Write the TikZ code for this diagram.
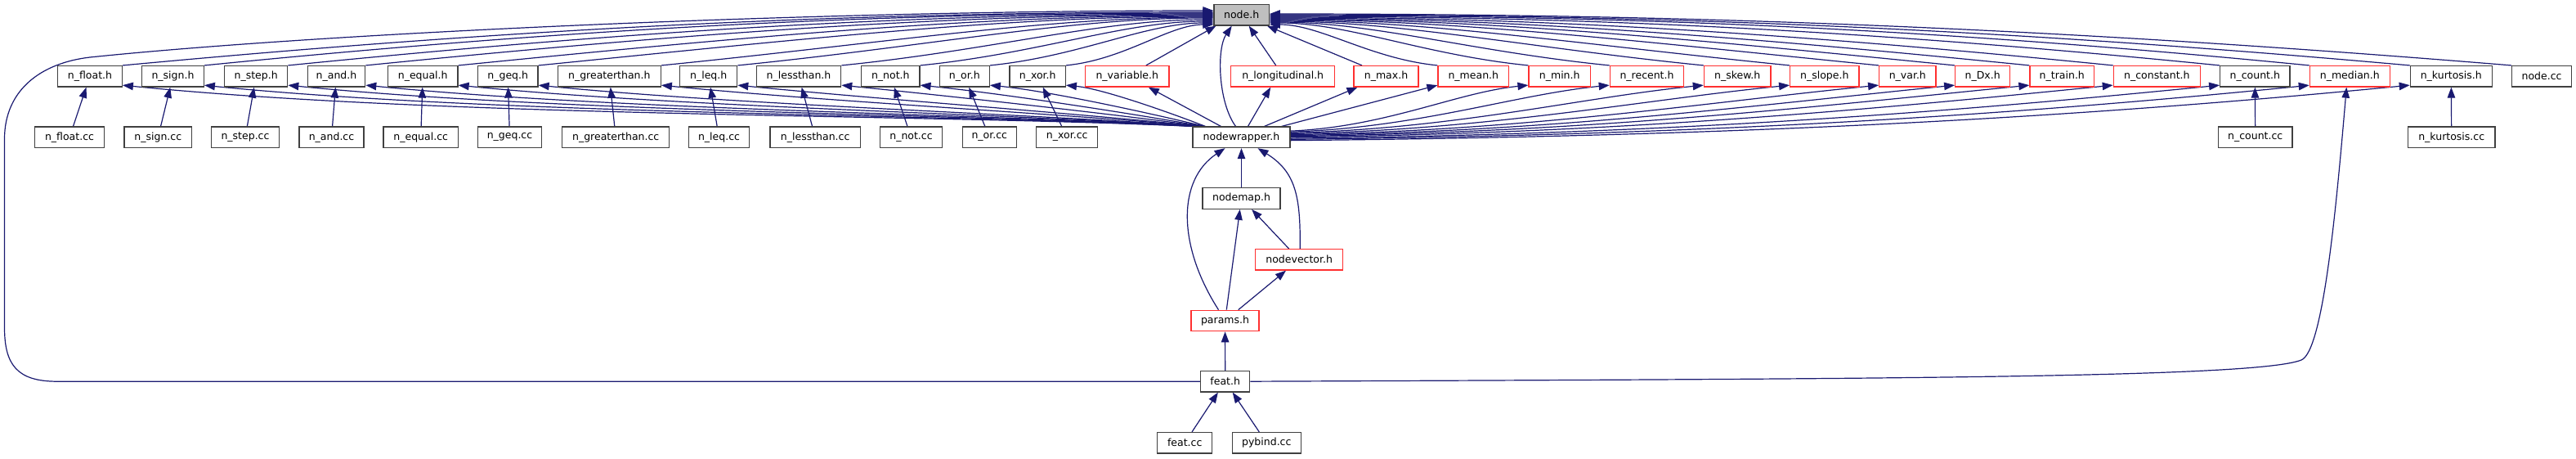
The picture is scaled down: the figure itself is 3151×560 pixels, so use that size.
\documentclass[tikz,border=0pt]{standalone}
\usepackage{fontspec}
\setmainfont{DejaVu Sans}
\usetikzlibrary{arrows.meta,backgrounds}
\definecolor{edgeblue}{HTML}{191970}
\definecolor{bordergray}{HTML}{404040}
\definecolor{borderred}{HTML}{FF3030}
\definecolor{fillgray}{HTML}{BFBFBF}
\tikzset{
  box/.style={draw=bordergray, line width=1.2pt, fill=white, inner sep=0pt,
    minimum height=25.5pt, font=\fontsize{12.5}{15}\selectfont, text=black},
  redbox/.style={box, draw=borderred},
  edge/.style={draw=edgeblue, line width=1.2pt, -{Triangle[length=13pt,width=9.5pt]}},
}
\begin{document}
\begin{tikzpicture}[x=1pt,y=-1pt]
\useasboundingbox (0,0) rectangle (3151,560);
% row 0
\node[box, fill=fillgray, minimum width=67.3pt] (nodeh) at (1518.7,18.3) {node.h};
% row 1
\node[box, minimum width=78.6pt]  (nfloat)        at (110,93.3)    {n\_float.h};
\node[box, minimum width=75.6pt]  (nsign)         at (211.5,93.3)  {n\_sign.h};
\node[box, minimum width=77pt]    (nstep)         at (313.2,93.3)  {n\_step.h};
\node[box, minimum width=70.4pt]  (nand)          at (411.5,93.3)  {n\_and.h};
\node[box, minimum width=85.7pt]  (nequal)        at (517.2,93.3)  {n\_equal.h};
\node[box, minimum width=73.7pt]  (ngeq)          at (621.2,93.3)  {n\_geq.h};
\node[box, minimum width=126pt]   (ngreaterthan)  at (745.3,93.3)  {n\_greaterthan.h};
\node[box, minimum width=70pt]    (nleq)          at (866.7,93.3)  {n\_leq.h};
\node[box, minimum width=103.4pt] (nlessthan)     at (977,93.3)    {n\_lessthan.h};
\node[box, minimum width=71.3pt]  (nnot)          at (1089.3,93.3) {n\_not.h};
\node[box, minimum width=61pt]    (nor)           at (1179.8,93.3) {n\_or.h};
\node[box, minimum width=68.3pt]  (nxor)          at (1269.2,93.3) {n\_xor.h};
\node[redbox, minimum width=102.3pt] (nvariable)  at (1378.8,93.3) {n\_variable.h};
\node[redbox, minimum width=127pt] (nlongitudinal) at (1569.2,93.3) {n\_longitudinal.h};
\node[redbox, minimum width=79pt]  (nmax)         at (1695.5,93.3) {n\_max.h};
\node[redbox, minimum width=86.7pt] (nmean)       at (1802.3,93.3) {n\_mean.h};
\node[redbox, minimum width=75.3pt] (nmin)        at (1907.7,93.3) {n\_min.h};
\node[redbox, minimum width=90.4pt] (nrecent)     at (2014.5,93.3) {n\_recent.h};
\node[redbox, minimum width=81.7pt] (nskew)       at (2125.2,93.3) {n\_skew.h};
\node[redbox, minimum width=84.3pt] (nslope)      at (2231.8,93.3) {n\_slope.h};
\node[redbox, minimum width=69.3pt] (nvar)        at (2333.3,93.3) {n\_var.h};
\node[redbox, minimum width=67pt]   (nDx)         at (2425.2,93.3) {n\_Dx.h};
\node[redbox, minimum width=78.7pt] (ntrain)      at (2522.3,93.3) {n\_train.h};
\node[redbox, minimum width=106pt]  (nconstant)   at (2638.3,93.3) {n\_constant.h};
\node[box, minimum width=85.3pt]    (ncount)      at (2758.3,93.3) {n\_count.h};
\node[redbox, minimum width=98pt]   (nmedian)     at (2874.3,93.3) {n\_median.h};
\node[box, minimum width=100pt]     (nkurtosis)   at (2998.3,93.3) {n\_kurtosis.h};
\node[box, minimum width=72.6pt]    (nodecc)      at (3109,93.3)   {node.cc};
% row 2
\node[box, minimum width=84.6pt]  (nfloatcc)       at (85,167.8)     {n\_float.cc};
\node[box, minimum width=82.7pt]  (nsigncc)        at (193.3,167.8)  {n\_sign.cc};
\node[box, minimum width=82.6pt]  (nstepcc)        at (300,167.8)    {n\_step.cc};
\node[box, minimum width=79pt]    (nandcc)         at (405.5,167.8)  {n\_and.cc};
\node[box, minimum width=91.3pt]  (nequalcc)       at (514.7,167.8)  {n\_equal.cc};
\node[box, minimum width=78.4pt]  (ngeqcc)         at (623.5,167.8)  {n\_geq.cc};
\node[box, minimum width=131pt]   (ngreaterthancc) at (753.2,167.8)  {n\_greaterthan.cc};
\node[box, minimum width=74.4pt]  (nleqcc)         at (879.5,167.8)  {n\_leq.cc};
\node[box, minimum width=110.3pt] (nlessthancc)    at (997.2,167.8)  {n\_lessthan.cc};
\node[box, minimum width=75.6pt]  (nnotcc)         at (1114.5,167.8) {n\_not.cc};
\node[box, minimum width=66pt]    (norcc)          at (1210.3,167.8) {n\_or.cc};
\node[box, minimum width=75pt]    (nxorcc)         at (1305.2,167.8) {n\_xor.cc};
\node[box, minimum width=119pt]   (nodewrapper)    at (1518.5,167.8) {nodewrapper.h};
\node[box, minimum width=90.7pt]  (ncountcc)       at (2758.7,167.8) {n\_count.cc};
\node[box, minimum width=106.7pt] (nkurtosiscc)    at (2998.7,167.8) {n\_kurtosis.cc};
% lower part
\node[box, minimum width=95pt]     (nodemap)    at (1518.5,242.5) {nodemap.h};
\node[redbox, minimum width=107pt] (nodevector) at (1589.2,317.3) {nodevector.h};
\node[redbox, minimum width=83pt]  (params)     at (1498.5,392)   {params.h};
\node[box, minimum width=60pt]     (feat)       at (1498.7,466.2) {feat.h};
\node[box, minimum width=67pt]     (featcc)     at (1449.2,541.3) {feat.cc};
\node[box, minimum width=84pt]     (pybindcc)   at (1549.3,541.3) {pybind.cc};

\begin{scope}[on background layer]
% left headers -> node.h
\foreach \n/\d/\ye in {nfloat/1335.7/15, nsign/1235.7/16, nstep/1133.3/17, nand/1038.3/18,
    nequal/925/19, ngeq/827/20, ngreaterthan/676.7/21, nleq/583.3/22,
    nlessthan/456.3/24, nnot/360/26, nor/274.7/28, nxor/181.7/30}
  \draw[edge] (\n.north east) .. controls +({0.4*\d},{-min(0.04*\d,50)}) and +({-0.3*\d},0)
    .. ([yshift={(18.3-\ye)*1pt}]nodeh.west);
% right headers -> node.h
\foreach \n/\d/\ye in {nmean/207/30, nmin/318/28, nrecent/417.3/27, nskew/532.3/26,
    nslope/637.7/25, nvar/746.7/24, nDx/839.7/23, ntrain/931/22, nconstant/1033.3/21,
    ncount/1163.7/20, nmedian/1273.3/19, nkurtosis/1396.3/18, nodecc/1520.7/17}
  \draw[edge] (\n.north west) .. controls +({-0.4*\d},{-min(0.04*\d,50)}) and +({0.3*\d},0)
    .. ([yshift={(18.3-\ye)*1pt}]nodeh.east);
% near headers -> node.h
\draw[edge] ([xshift=23pt]nvariable.north) -- ([xshift=3pt]nodeh.south west);
\draw[edge] ([xshift=-8.5pt]nlongitudinal.north) -- ([xshift=9pt]nodeh.south);
\draw[edge] ([xshift=-29.5pt]nmax.north) -- ([xshift=-3pt]nodeh.south east);
% nodewrapper -> node.h
\draw[edge] ([xshift=-7pt]nodewrapper.north) .. controls (1490,125) and (1488,60) .. ([xshift=-12pt]nodeh.south);
% nodewrapper -> left headers
\foreach \n/\d in {nfloat/1309.7, nsign/1209.7, nstep/1107.3, nand/1012.3, nequal/899,
    ngeq/801, ngreaterthan/650.7, nleq/557.3, nlessthan/430.3, nnot/334, nor/248.7, nxor/155.7}
  \draw[edge] ([xshift={(18-0.0122*\d)*1pt}]nodewrapper.north west) .. controls +({-0.25*\d},-15)
    and +({0.3*\d},{min(0.03*\d,40)}) .. ([yshift=2.5pt]\n.south east);
% nodewrapper -> right headers
\foreach \n/\d in {nmin/292, nrecent/391.3, nskew/506.3, nslope/611.7, nvar/720.7, nDx/813.7,
    ntrain/905, nconstant/1007.3, ncount/1137.7, nmedian/1247.3, nkurtosis/1370.3}
  \draw[edge] ([yshift={(10.8-0.01069*\d)*1pt}]nodewrapper.east) .. controls +({0.4*\d},-5)
    and +({-0.3*\d},{min(0.03*\d,40)}) .. ([yshift=2.5pt]\n.south west);
\draw[edge] ([xshift=-25pt]nodewrapper.north) -- ([xshift=26pt]nvariable.south);
\draw[edge] ([xshift=8pt]nodewrapper.north) -- ([xshift=-15pt]nlongitudinal.south);
\draw[edge] ([xshift=28pt]nodewrapper.north) -- ([xshift=-35pt]nmax.south);
\draw[edge] ([xshift=-11pt]nodewrapper.north east) -- ([yshift=2.5pt]nmean.south west);
% .cc -> .h
\foreach \a/\b in {nfloatcc/nfloat, nsigncc/nsign, nstepcc/nstep, nandcc/nand, nequalcc/nequal,
    ngeqcc/ngeq, ngreaterthancc/ngreaterthan, nleqcc/nleq, nlessthancc/nlessthan, nnotcc/nnot,
    norcc/nor, nxorcc/nxor, ncountcc/ncount, nkurtosiscc/nkurtosis}
  \draw[edge] (\a) -- (\b);
% lower part
\draw[edge] (nodemap) -- (nodewrapper);
\draw[edge] (params) -- (nodemap);
\draw[edge] (nodevector) -- (nodemap);
\draw[edge] (params) -- (nodevector);
\draw[edge] (feat) -- (params);
\draw[edge] (featcc) -- (feat);
\draw[edge] (pybindcc) -- (feat);
\draw[edge] ([xshift=-8pt]params.north) .. controls (1440,300) and (1440,220) .. ([xshift=-20pt]nodewrapper.south);
\draw[edge] ([xshift=1pt]nodevector.north) .. controls (1591,240) and (1585,210) .. ([xshift=20pt]nodewrapper.south);
% feat.h -> node.h (around the left)
\draw[edge] (feat.west) -- (70,466.2) .. controls (20,466.2) and (5.5,445) .. (5.5,400)
  -- (5.5,170) .. controls (5.5,110) and (50,77) .. (110,70)
  .. controls (400,40) and (1000,13) .. ([yshift=5.3pt]nodeh.west);
% feat.h -> n_median.h
\draw[edge] (feat.east) .. controls (2300,463) and (2760,462) .. (2815,440)
  .. controls (2842,429) and (2858,250) .. ([xshift=-4pt]nmedian.south);
\end{scope}
\end{tikzpicture}
\end{document}
